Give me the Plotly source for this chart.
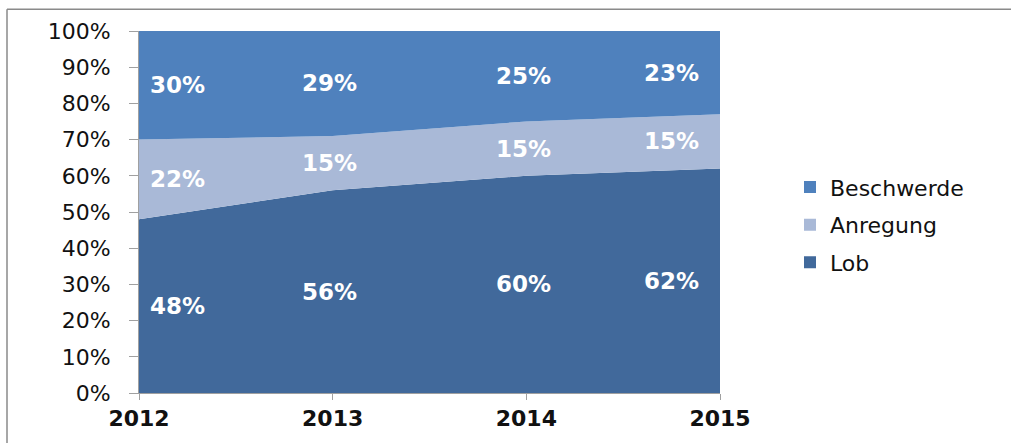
import plotly.graph_objects as go

years = [2012, 2013, 2014, 2015]
lob = [48, 56, 60, 62]
anregung = [22, 15, 15, 15]
beschwerde = [30, 29, 25, 23]

series = [("Lob", lob, "#41699B"), ("Anregung", anregung, "#A9B9D7"), ("Beschwerde", beschwerde, "#4F81BD")]

fig = go.Figure()
for name, vals, col in series:
    fig.add_trace(go.Scatter(x=years, y=vals, name=name, mode="none", stackgroup="one",
                             fillcolor=col, line=dict(width=0), showlegend=False, hoverinfo="x+y+name"))

# legend entries (top to bottom)
for name, vals, col in reversed(series):
    fig.add_trace(go.Scatter(x=[None], y=[None], name=name, mode="markers",
                             marker=dict(symbol="square", size=12, color=col),
                             legendgroup=name, showlegend=True))

# data labels at band midpoints
for j, yr in enumerate(years):
    base = 0
    for name, vals, col in series:
        v = vals[j]
        mid = base + v / 2
        base += v
        if j == 0:
            xa, xs = "left", 9
        elif j == len(years) - 1:
            xa, xs = "right", -19
        else:
            xa, xs = "center", -3
        fig.add_annotation(x=yr, y=mid, text=f"{v}%", showarrow=False, xanchor=xa, xshift=xs,
                           font=dict(family="DejaVu Sans", size=23, color="white", weight="bold"))

L, R, T, B = 139, 291, 31, 44
W, H = 1011, 443
pw, ph = W - L - R, H - T - B
px = lambda x: (x - L) / pw
py = lambda y: (H - B - y) / ph
frame = dict(color="#8a8a8a", width=1.5)
fig.add_shape(type="line", xref="paper", yref="paper", x0=px(7), x1=px(1015), y0=py(9), y1=py(9),
              line=frame, layer="below")
fig.add_shape(type="line", xref="paper", yref="paper", x0=px(7), x1=px(7), y0=py(9), y1=py(450),
              line=frame, layer="below")

fig.update_layout(
    width=W, height=H,
    margin=dict(l=L, r=R, t=T, b=B),
    paper_bgcolor="white", plot_bgcolor="white",
    font=dict(family="DejaVu Sans", color="#1a1a1a"),
    xaxis=dict(range=[2012, 2015], tickvals=years, ticktext=[str(y) for y in years],
               showgrid=False, zeroline=False, showline=True, linecolor="#a0a0a0",
               ticks="outside", ticklen=6, tickcolor="#a0a0a0",
               tickfont=dict(size=22, family="DejaVu Sans", weight="bold", color="#111111")),
    yaxis=dict(range=[0, 100], dtick=10, ticksuffix="%", showgrid=False, zeroline=False,
               showline=True, linecolor="#a0a0a0", ticks="outside", ticklen=9, tickcolor="#a0a0a0",
               ticklabelstandoff=14,
               tickfont=dict(size=22, family="DejaVu Sans", color="#111111")),
    legend=dict(x=px(790), xanchor="left", y=py(228), yanchor="middle",
                font=dict(size=22, family="DejaVu Sans", color="#111111"),
                traceorder="grouped", tracegroupgap=6, itemwidth=30, bgcolor="rgba(0,0,0,0)"),
)

fig.write_html("out.html", config={"displayModeBar": False},
               post_script="document.body.style.margin='0';")
